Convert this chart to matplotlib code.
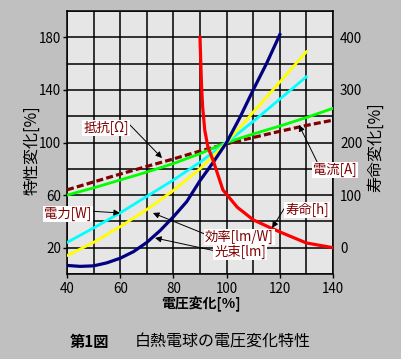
import matplotlib
matplotlib.use("Agg")
import matplotlib.pyplot as plt

plt.rcParams['font.family'] = ['Noto Sans CJK JP', 'DejaVu Sans']

# ---- data ----
resistance_x = [40, 50, 60, 70, 80, 90, 100, 110, 120, 130, 140]
resistance = [64, 70, 76, 81.8, 87.5, 93.5, 99, 103.8, 108.5, 113, 117]

current_x = [40, 50, 60, 70, 80, 90, 100, 110, 120, 130, 140]
current = [60, 65.5, 71.5, 77.5, 84, 91.5, 100, 106.5, 112.5, 119, 126]

power_x = [40, 50, 60, 70, 80, 90, 100, 110, 120, 130]
power = [24, 35, 46.5, 59, 71.5, 85, 100, 116, 133, 150]

efficacy_x = [40, 50, 60, 70, 80, 90, 100, 110, 120, 130]
efficacy = [14, 24, 36, 49, 63.5, 80, 100, 123, 146, 169]

flux_x = [40, 45, 50, 55, 60, 65, 70, 75, 80, 85, 90, 95, 100, 105, 110, 115, 120]
flux = [6.5, 5.8, 6.2, 8.5, 12, 17, 24, 33, 43.5, 55, 71, 85, 100, 119, 140, 160, 182]

life_x = [90, 90.3, 90.6, 91.0, 91.8, 93.0, 95, 98.6, 104, 110, 116, 120, 130, 140]
life = [400, 350, 305, 267, 223, 191, 165, 110, 77, 53, 39, 30, 9, 0]

left_ticks = [20, 60, 100, 140, 180]
right_ticks = [0, 100, 200, 300, 400]
x_ticks = [40, 60, 80, 100, 120, 140]

W, H = 402, 359
fig = plt.figure(figsize=(W / 100, H / 100), dpi=100)
fig.patch.set_facecolor('#c0c0c0')

ax = fig.add_axes([67 / W, 1 - 274 / H, (333 - 67) / W, (274 - 11) / H])
ax.set_facecolor('#e6e6e6')
ax.set_xlim(40, 140)
ax.set_ylim(0, 200)
ax.set_xticks(x_ticks)
ax.set_xticks(range(40, 141, 10), minor=True)
ax.set_yticks(left_ticks)
ax.set_yticks(range(0, 201, 20), minor=True)
ax.grid(True, which='both', color='black', lw=1.1)
ax.set_axisbelow(True)
ax.tick_params(which='minor', length=0)
ax.tick_params(which='major', length=3, width=1, pad=1.0, labelsize=9.7, colors='black')
ax.tick_params(axis='x', pad=3)
for s in ax.spines.values():
    s.set_color('black')
    s.set_linewidth(1.1)

ax.plot(resistance_x, resistance, color='#800000', lw=2.3, dashes=(2.2, 1.0), zorder=3)
ax.plot(current_x, current, color='#00ff00', lw=2.0, zorder=3)
ax.plot(power_x, power, color='#00ffff', lw=2.0, zorder=3)
ax.plot(efficacy_x, efficacy, color='#ffff00', lw=2.0, zorder=3)
ax.plot(flux_x, flux, color='#000080', lw=2.3, zorder=3)

ax2 = ax.twinx()
ax2.set_ylim(-50, 450)
ax2.set_yticks(right_ticks)
ax2.tick_params(length=0, pad=5, labelsize=9.7)
for s in ax2.spines.values():
    s.set_visible(False)
ax2.plot(life_x, life, color='#ff0000', lw=2.3, zorder=3)

label_kw = dict(color='#800000', fontsize=9.6, ha='center', va='center',
                xycoords=ax.transData, textcoords=ax.transData, annotation_clip=False,
                bbox=dict(boxstyle='square,pad=0.08', fc='white', ec='none'))

def arrow(relpos):
    return dict(arrowstyle='-|>', color='black', lw=0.7, mutation_scale=9,
                shrinkA=0, shrinkB=0, relpos=relpos)

ax2.annotate('抵抗[Ω]', xy=(75.7, 88.2), xytext=(54.7, 111), arrowprops=arrow((1, 0.8)), **label_kw)
ax2.annotate('電流[A]', xy=(127.2, 113.3), xytext=(140.8, 79), arrowprops=arrow((0.1, 1)), **label_kw)
ax2.annotate('電力[W]', xy=(59.9, 46.4), xytext=(40.4, 45.6), arrowprops=arrow((1, 0.7)), **label_kw)
ax2.annotate('効率[lm/W]', xy=(72.3, 46.4), xytext=(104.8, 28.2), arrowprops=arrow((0, 0.7)), **label_kw)
ax2.annotate('光束[lm]', xy=(73.1, 27.4), xytext=(105.2, 16.6), arrowprops=arrow((0, 0.6)), **label_kw)
ax2.annotate('寿命[h]', xy=(117.1, 35), xytext=(130.2, 48.7), arrowprops=arrow((0, 0.7)), **label_kw)

fig.text(32 / W, 1 - 150 / H, '特性変化[%]', rotation=90, ha='center', va='center', fontsize=11.5)
fig.text(376 / W, 1 - 147 / H, '寿命変化[%]', rotation=90, ha='center', va='center', fontsize=11.5)
fig.text(201 / W, 1 - 303 / H, '電圧変化[%]', ha='center', va='center', fontsize=10, fontweight='bold')
fig.text(70 / W, 1 - 342 / H, '第1図', ha='left', va='center', fontsize=11, fontweight='bold')
fig.text(135 / W, 1 - 342 / H, '白熱電球の電圧変化特性', ha='left', va='center', fontsize=11.5)

fig.savefig('out.png', dpi=100, facecolor=fig.get_facecolor())
